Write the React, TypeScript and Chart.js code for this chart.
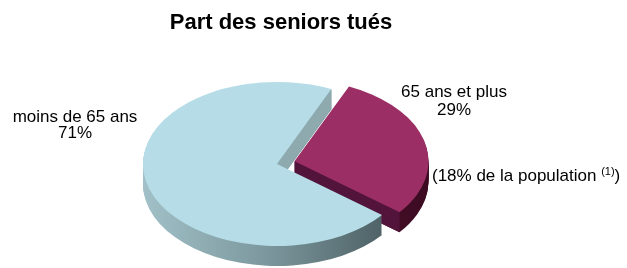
import { useEffect, useRef } from "react";
import { Chart, registerables } from "chart.js";

Chart.register(...registerables);

const categories = ["65 ans et plus", "moins de 65 ans"];
const shares = [29, 71];
const shareLabels = ["29%", "71%"];
const explodeOffsets = [18, 0];
const topColors = ["#9b2f65", "#b6dde7"];
const titleText = "Part des seniors tués";
const noteText = "(18% de la population";
const noteRef = "(1)";

const FONT = "'Liberation Sans', Arial, sans-serif";
const RX = 134;
const RY = 82;
const DEPTH = 20;
const CY = 164;

const sideStops: [number, string][][] = [
  [
    [0, "#5e1a3b"],
    [1, "#3c0b22"],
  ],
  [
    [0, "#a1c0c7"],
    [0.45, "#7d999f"],
    [1, "#435559"],
  ],
];
const faceColors = ["#52143a", "#8eaaaf"];

const pie3d = {
  id: "pie3d",
  beforeDatasetsDraw(chart: any) {
    const ctx: CanvasRenderingContext2D = chart.ctx;
    const meta = chart.getDatasetMeta(0);
    const arcs = meta.data;
    const k = RY / RX;
    const geo = arcs.map((el: any, i: number) => {
      const p = el.getProps(["x", "y", "startAngle", "endAngle"], true);
      const h = (p.startAngle + p.endAngle) / 2;
      const d = (el.options && el.options.offset) || 0;
      return {
        i,
        a0: p.startAngle,
        a1: p.endAngle,
        cx: p.x + Math.cos(h) * d,
        cy: CY + Math.sin(h) * d * k,
      };
    });
    const path = (g: any, dy: number) => {
      ctx.beginPath();
      ctx.moveTo(g.cx, g.cy + dy);
      ctx.ellipse(g.cx, g.cy + dy, RX, RY, 0, g.a0, g.a1);
      ctx.closePath();
    };
    const face = (g: any, a: number) => {
      const px = g.cx + RX * Math.cos(a);
      const py = g.cy + RY * Math.sin(a);
      ctx.beginPath();
      ctx.moveTo(g.cx, g.cy);
      ctx.lineTo(px, py);
      ctx.lineTo(px, py + DEPTH);
      ctx.lineTo(g.cx, g.cy + DEPTH);
      ctx.closePath();
      ctx.fillStyle = faceColors[g.i % faceColors.length];
      ctx.fill();
    };
    ctx.save();
    // sides
    geo.forEach((g: any) => {
      const grad = ctx.createLinearGradient(g.cx - RX, 0, g.cx + RX, 0);
      sideStops[g.i % sideStops.length].forEach(([o, c]) => grad.addColorStop(o, c));
      ctx.fillStyle = grad;
      for (let dy = DEPTH; dy >= 1; dy -= 1) {
        path(g, dy);
        ctx.fill();
      }
      if (Math.cos(g.a0) < 0) face(g, g.a0);
      if (Math.cos(g.a1) > 0) face(g, g.a1);
    });
    // tops
    geo.forEach((g: any) => {
      path(g, 0);
      ctx.fillStyle = topColors[g.i % topColors.length];
      ctx.fill();
    });
    ctx.restore();
    return false;
  },
  afterDraw(chart: any) {
    const ctx: CanvasRenderingContext2D = chart.ctx;
    ctx.save();
    ctx.fillStyle = "#000";
    ctx.textAlign = "center";
    ctx.textBaseline = "alphabetic";
    ctx.font = `bold 22px ${FONT}`;
    ctx.fillText(titleText, 281, 29);
    ctx.font = `17px ${FONT}`;
    ctx.fillText(categories[1], 75, 122);
    ctx.fillText(shareLabels[1], 75, 138);
    ctx.fillText(categories[0], 454, 97);
    ctx.fillText(shareLabels[0], 454, 115);
    ctx.textAlign = "left";
    let x = 432;
    ctx.fillText(noteText + " ", x, 181);
    x += ctx.measureText(noteText + " ").width;
    ctx.font = `11px ${FONT}`;
    ctx.fillText(noteRef, x, 175);
    x += ctx.measureText(noteRef).width;
    ctx.font = `17px ${FONT}`;
    ctx.fillText(")", x, 181);
    ctx.restore();
  },
};

export default function App() {
  const ref = useRef<HTMLCanvasElement | null>(null);
  useEffect(() => {
    document.body.style.margin = "0";
    const canvas = ref.current;
    if (!canvas) return;
    const chart = new Chart(canvas, {
      type: "pie",
      data: {
        labels: categories,
        datasets: [
          {
            data: shares,
            backgroundColor: topColors,
            offset: explodeOffsets,
            borderWidth: 0,
          },
        ],
      },
      options: {
        animation: false,
        responsive: false,
        devicePixelRatio: 1,
        rotation: 24,
        events: [],
        layout: { padding: { left: 150, right: 223, top: 30, bottom: 0 } },
        plugins: {
          legend: { display: false },
          tooltip: { enabled: false },
          title: { display: false },
        },
      },
      plugins: [pie3d],
    } as any);
    return () => chart.destroy();
  }, []);
  return (
    <div style={{ width: 627, height: 268, background: "#fff" }}>
      <canvas ref={ref} width={627} height={268} style={{ display: "block" }} />
    </div>
  );
}
